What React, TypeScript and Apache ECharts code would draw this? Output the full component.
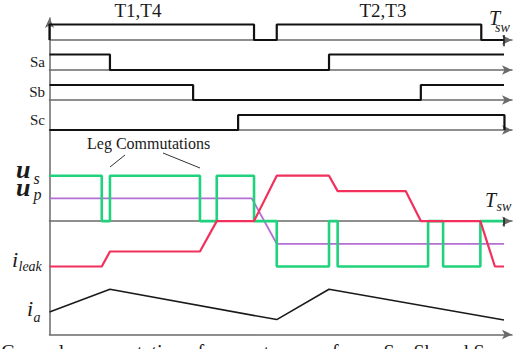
import React, { useEffect, useRef } from "react";
import * as echarts from "echarts";

// time axis in % of the switching period Tsw
const X_MAX = 101.76;

// gate signals: [time (% Tsw), level] at each transition (step: "end")
const topSignal = [[0, 0], [0, 1], [45, 0], [50, 1], [95, 0], [100, 0]];
const saSignal = [[0, 1], [13.3, 0], [61.5, 1], [100, 1]];
const sbSignal = [[0, 1], [31.6, 0], [81.7, 1], [100, 1]];
const scSignal = [[0, 0], [41.5, 1], [100.1, 0]];

// transformer voltages / leakage current (normalised)
const usWave = [[0, 1], [11.5, 0], [13.3, 1], [33.1, 0], [36.8, 1], [45, 0], [50, -1], [61.5, 0], [63.4, -1], [83.3, 0], [86.6, -1], [94.8, 0], [99.9, 0]];
const upWave = [[0, 0.5], [44.5, 0.5], [50, -0.5], [100, -0.5]];
const ileakWave = [[0, -1], [11.5, -1], [13.3, -0.67], [33.1, -0.67], [36.8, 0], [45, 0], [50, 1], [61.5, 1], [63.4, 0.66], [78.4, 0.66], [81.7, 0], [94.8, 0], [98, -1], [100, -1]];
const iaWave = [[0, 0.5], [13.3, 1], [50, 0.33], [61.5, 1], [100, 0.32]];

// Tsw marker ticks
const tswTickTop = [[100, -0.4], [100, 0.33]];
const tswTickMid = [[100, -0.12], [100, 0.08]];

const AXIS = "#6a6a6a";
const SERIF = "'Liberation Serif', 'Times New Roman', serif";

export default function App() {
  const ref = useRef<HTMLDivElement>(null);
  useEffect(() => {
    document.body.style.margin = "0";
    const chart = echarts.init(ref.current!, null, { renderer: "svg" });
    const L = 49.5;
    const W = 462.5;
    const grids = [
      { left: L, width: W, top: 24.5, height: 15.5 },
      { left: L, width: W, top: 54.5, height: 15.5 },
      { left: L, width: W, top: 85, height: 15 },
      { left: L, width: W, top: 115, height: 15 },
      { left: L, width: W, top: 175.7, height: 90.8 },
      { left: L, width: W, top: 289.3, height: 45.2 },
      { left: L, width: W, top: 18, height: 316.5 },
    ];
    const arrowLine = (show: boolean) => ({
      show,
      onZero: true,
      symbol: ["none", "arrow"],
      symbolSize: [7, 10],
      lineStyle: { color: AXIS, width: 1.5 },
    });
    const xAxes = grids.map((_, i) => ({
      type: "value",
      gridIndex: i,
      min: 0,
      max: X_MAX,
      axisLine: arrowLine(i !== 5),
      axisTick: { show: false },
      axisLabel: { show: false },
      splitLine: { show: false },
    }));
    const yRanges = [[0, 1], [0, 1], [0, 1], [0, 1], [-1, 1], [0, 1], [0, 1]];
    const yAxes = yRanges.map((r, i) => ({
      type: "value",
      gridIndex: i,
      min: r[0],
      max: r[1],
      show: i === 6,
      axisLine: { show: i === 6, onZero: false, symbol: ["none", "arrow"], symbolSize: [7, 10], lineStyle: { color: AXIS, width: 1.5 } },
      axisTick: { show: false },
      axisLabel: { show: false },
      splitLine: { show: false },
    }));
    const ln = (data: number[][], idx: number, color: string, width: number, step?: string) => ({
      type: "line",
      xAxisIndex: idx,
      yAxisIndex: idx,
      data,
      step: step || false,
      symbol: "none",
      showSymbol: false,
      clip: false,
      silent: true,
      lineStyle: { color, width },
    });
    const txt = (text: string, x: number, y: number, font: string, align = "left") => ({
      type: "text",
      style: { text, x, y, font, fill: "#1a1a1a", textAlign: align, textVerticalAlign: "middle" },
    });
    chart.setOption({
      animation: false,
      backgroundColor: "#ffffff",
      grid: grids,
      xAxis: xAxes,
      yAxis: yAxes,
      series: [
        ln(topSignal, 0, "#111", 2.2, "end"),
        ln(saSignal, 1, "#111", 2.2, "end"),
        ln(sbSignal, 2, "#111", 2.2, "end"),
        ln(scSignal, 3, "#111", 2.2, "end"),
        ln(tswTickTop, 0, "#222", 1.5),
        ln(upWave, 4, "#b46fd2", 1.8),
        ln(usWave, 4, "#20d27c", 2.6, "end"),
        ln(ileakWave, 4, "#f2305c", 2.2),
        ln(tswTickMid, 4, "#222", 1.5),
        ln(iaWave, 5, "#1a1a1a", 1.6),
      ],
      graphic: [
        txt("T1,T4", 138, 10.5, `19px ${SERIF}`, "center"),
        txt("T2,T3", 383, 10.5, `19px ${SERIF}`, "center"),
        txt("T", 489, 18.2, `italic 20px ${SERIF}`),
        txt("sw", 495, 27, `italic 14px ${SERIF}`),
        txt("T", 485, 200.2, `italic 20px ${SERIF}`),
        txt("sw", 496.5, 206.5, `italic 14px ${SERIF}`),
        txt("Sa", 45, 61.6, `15px ${SERIF}`, "right"),
        txt("Sb", 45, 92.2, `15px ${SERIF}`, "right"),
        txt("Sc", 45, 119.9, `15px ${SERIF}`, "right"),
        txt("Leg Commutations", 87, 143.6, `16px ${SERIF}`),
        { type: "line", shape: { x1: 125, y1: 155, x2: 110, y2: 167 }, style: { stroke: "#333", lineWidth: 1 } },
        { type: "line", shape: { x1: 163, y1: 153, x2: 200, y2: 168 }, style: { stroke: "#333", lineWidth: 1 } },
        txt("u", 16, 169.2, `bold italic 26px ${SERIF}`),
        txt("s", 33.5, 178.5, `italic 16px ${SERIF}`),
        txt("u", 16, 187.7, `bold italic 26px ${SERIF}`),
        txt("p", 33.5, 194, `italic 16px ${SERIF}`),
        txt("i", 12, 259.5, `italic 22px ${SERIF}`),
        txt("leak", 18.5, 266.2, `italic 14px ${SERIF}`),
        txt("i", 27, 308, `italic 22px ${SERIF}`),
        txt("a", 33.5, 317.7, `italic 14px ${SERIF}`),
        txt("General representation of converter waveforms Sa, Sb and Sc", 1, 351.5, `20px ${SERIF}`),
      ],
    });
    return () => chart.dispose();
  }, []);
  return <div ref={ref} style={{ width: 529, height: 349 }} />;
}
